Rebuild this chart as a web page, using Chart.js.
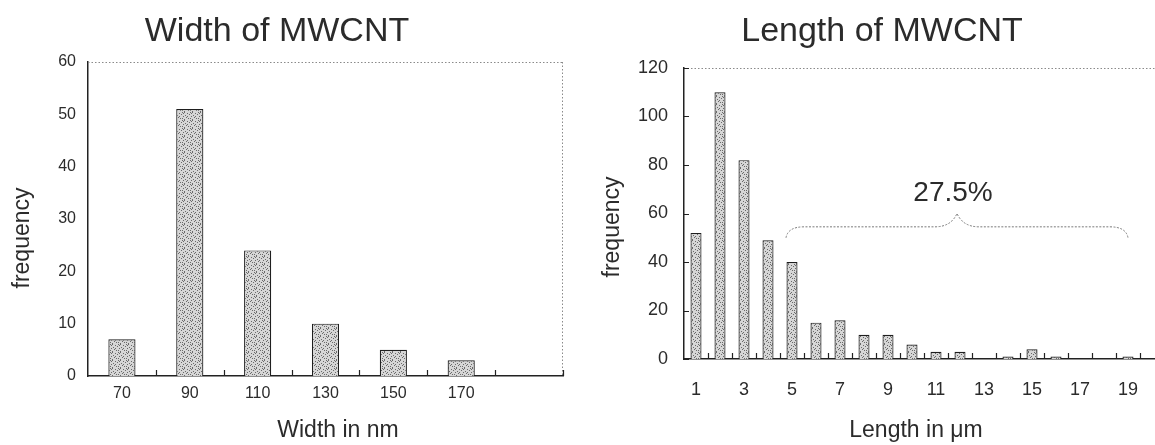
<!DOCTYPE html>
<html>
<head>
<meta charset="utf-8">
<script src="https://cdn.jsdelivr.net/npm/chart.js@4.4.1/dist/chart.umd.min.js"></script>
<style>
  html, body { margin: 0; padding: 0; background: #fff; overflow: hidden; }
  #wrap { position: relative; width: 1155px; height: 445px; overflow: hidden; }
  #widthBox { position: absolute; left: 0; top: 0; }
  #lengthBox { position: absolute; left: 580px; top: 0; }
</style>
</head>
<body>
<div id="wrap">
  <div id="widthBox"><canvas id="widthChart" width="580" height="445"></canvas></div>
  <div id="lengthBox"><canvas id="lengthChart" width="600" height="445"></canvas></div>
</div>
<script>
// data
const widthLabels = ['70', '90', '110', '130', '150', '170', '190'];
const widthCounts = [7, 51, 24, 10, 5, 3, 0];
const widthYTicks = [0, 10, 20, 30, 40, 50, 60];

const lengthLabels = ['1', '2', '3', '4', '5', '6', '7', '8', '9', '10',
                      '11', '12', '13', '14', '15', '16', '17', '18', '19', '20'];
const lengthCounts = [52, 110, 82, 49, 40, 15, 16, 10, 10, 6,
                      3, 3, 0, 1, 4, 1, 0, 0, 1, 0];
const lengthYTicks = [0, 20, 40, 60, 80, 100, 120];

// bracket over bins 5..19, labelled with the share of long tubes
const bracketFrom = '5';
const bracketTo = '19';
const bracketText = '27.5%';

const FONT = "'Liberation Sans', Arial, sans-serif";
const INK = '#2b2b2b';

// grey stipple like the scanned bars
function stipple(ctx) {
    const c = document.createElement('canvas');
    c.width = 8;
    c.height = 8;
    const g = c.getContext('2d');
    g.fillStyle = '#d6d6d6';
    g.fillRect(0, 0, 8, 8);
    g.fillStyle = '#6a6a6a';
    const dots = [[0, 0], [3, 1], [6, 0], [1, 3], [5, 2], [2, 5], [7, 4], [4, 6], [0, 7], [6, 6], [3, 4], [7, 1]];
    dots.forEach(([x, y]) => g.fillRect(x, y, 1, 1));
    return ctx.createPattern(c, 'repeat');
}

// frame: dotted top/right, little inner ticks, free text
function framePlugin(cfg) {
    return {
        id: 'frame',
        afterDraw(chart) {
            const ctx = chart.ctx;
            const a = chart.chartArea;
            const xs = chart.scales.x;
            const ys = chart.scales.y;
            ctx.save();

            // dotted top and right edges
            ctx.strokeStyle = '#8a8a8a';
            ctx.lineWidth = 1;
            ctx.setLineDash([1.5, 2]);
            ctx.beginPath();
            ctx.moveTo(a.left, a.top + 0.5);
            ctx.lineTo(a.right, a.top + 0.5);
            if (cfg.rightEdge) {
                ctx.moveTo(a.right - 0.5, a.top);
                ctx.lineTo(a.right - 0.5, a.bottom);
            }
            ctx.stroke();
            ctx.setLineDash([]);

            // inner ticks between categories on the x axis
            ctx.strokeStyle = '#222';
            ctx.lineWidth = 1.2;
            ctx.beginPath();
            const n = xs.getLabels().length;
            const step = (xs.getPixelForValue(1) - xs.getPixelForValue(0));
            for (let i = 1; i <= n; i++) {
                const px = Math.round(xs.getPixelForValue(i) - step / 2) + 0.5;
                ctx.moveTo(px, a.bottom);
                ctx.lineTo(px, a.bottom - 6);
            }
            if (cfg.yTicks) {
                ys.ticks.forEach(t => {
                    const py = Math.round(ys.getPixelForValue(t.value)) + 0.5;
                    ctx.moveTo(a.left, py);
                    ctx.lineTo(a.left + 5, py);
                });
            }
            ctx.stroke();

            // titles
            ctx.fillStyle = INK;
            ctx.textAlign = 'center';
            ctx.textBaseline = 'alphabetic';
            ctx.font = cfg.titleSize + 'px ' + FONT;
            ctx.fillText(cfg.title, cfg.titleX, cfg.titleY);

            ctx.font = cfg.axisSize + 'px ' + FONT;
            ctx.textBaseline = 'middle';
            ctx.fillText(cfg.xTitle, cfg.xTitleX, cfg.xTitleY);

            ctx.save();
            ctx.translate(cfg.yTitleX, cfg.yTitleY);
            ctx.rotate(-Math.PI / 2);
            ctx.fillText('frequency', 0, 0);
            ctx.restore();

            ctx.restore();
        }
    };
}

const bracketPlugin = {
    id: 'bracket',
    afterDraw(chart) {
        const ctx = chart.ctx;
        const xs = chart.scales.x;
        const ys = chart.scales.y;
        const x0 = xs.getPixelForValue(lengthLabels.indexOf(bracketFrom)) - 6;
        const x1 = xs.getPixelForValue(lengthLabels.indexOf(bracketTo));
        const mid = (x0 + x1) / 2;
        const yEnd = ys.getPixelForValue(50);
        const yBar = ys.getPixelForValue(54.5);
        const yTip = ys.getPixelForValue(60);
        ctx.save();
        ctx.strokeStyle = '#7a7a7a';
        ctx.lineWidth = 1;
        ctx.setLineDash([2, 1.5]);
        ctx.beginPath();
        ctx.moveTo(x0, yEnd);
        ctx.quadraticCurveTo(x0 + 2, yBar, x0 + 18, yBar);
        ctx.lineTo(mid - 22, yBar);
        ctx.quadraticCurveTo(mid - 6, yBar, mid, yTip);
        ctx.quadraticCurveTo(mid + 6, yBar, mid + 22, yBar);
        ctx.lineTo(x1 - 18, yBar);
        ctx.quadraticCurveTo(x1 - 2, yBar, x1, yEnd);
        ctx.stroke();
        ctx.setLineDash([]);
        ctx.fillStyle = INK;
        ctx.font = '28px ' + FONT;
        ctx.textAlign = 'center';
        ctx.textBaseline = 'middle';
        ctx.fillText(bracketText, mid - 4, ys.getPixelForValue(68.5));
        ctx.restore();
    }
};

function makeChart(id, labels, counts, yTicks, opt) {
    const ctx = document.getElementById(id).getContext('2d');
    return new Chart(ctx, {
        type: 'bar',
        data: {
            labels: labels,
            datasets: [{
                data: counts,
                backgroundColor: stipple(ctx),
                borderColor: '#1e1e1e',
                borderWidth: 1.2,
                barPercentage: opt.barPct,
                categoryPercentage: 1
            }]
        },
        options: {
            responsive: false,
            animation: false,
            devicePixelRatio: 1,
            layout: { padding: opt.padding },
            plugins: {
                legend: { display: false },
                title: { display: false },
                tooltip: { enabled: false }
            },
            scales: {
                x: {
                    offset: true,
                    grid: { display: false, offset: true },
                    border: { display: true, color: '#222', width: 1.5 },
                    ticks: {
                        autoSkip: false,
                        maxRotation: 0,
                        padding: opt.xPad,
                        color: INK,
                        font: { family: FONT, size: opt.xTickSize },
                        callback: (v, i) => opt.showX(i) ? labels[i] : ''
                    },
                    afterFit: s => { s.height = 60; }
                },
                y: {
                    min: yTicks[0],
                    max: yTicks[yTicks.length - 1],
                    afterBuildTicks: s => { s.ticks = yTicks.map(v => ({ value: v })); },
                    grid: { display: false },
                    border: { display: true, color: '#222', width: 1.5 },
                    ticks: {
                        padding: opt.yPad,
                        color: INK,
                        font: { family: FONT, size: opt.yTickSize }
                    },
                    afterFit: s => { s.width = opt.yWidth; }
                }
            }
        },
        plugins: opt.plugins
    });
}

makeChart('widthChart', widthLabels, widthCounts, widthYTicks, {
    barPct: 0.4,
    padding: { left: 0, top: 62, right: 17, bottom: 9 },
    yWidth: 88,
    xPad: 0,
    yPad: 4,
    xTickSize: 16,
    yTickSize: 16,
    showX: i => i < widthLabels.length - 1,
    plugins: [framePlugin({
        rightEdge: true, yTicks: false,
        title: 'Width of MWCNT', titleSize: 34, titleX: 277, titleY: 41,
        xTitle: 'Width in nm', xTitleX: 338, xTitleY: 431,
        yTitle: 'frequency', yTitleX: 23, yTitleY: 238, axisSize: 23
    })]
});

makeChart('lengthChart', lengthLabels, lengthCounts, lengthYTicks, {
    barPct: 0.46,
    padding: { left: 0, top: 68, right: 16, bottom: 26 },
    yWidth: 104,
    xPad: 12,
    yPad: 8,
    xTickSize: 18,
    yTickSize: 18,
    showX: i => i % 2 === 0 && i < 19,
    plugins: [framePlugin({
        rightEdge: false, yTicks: true,
        title: 'Length of MWCNT', titleSize: 34, titleX: 302, titleY: 41,
        xTitle: 'Length in μm', xTitleX: 336, xTitleY: 431,
        yTitle: 'frequency', yTitleX: 33, yTitleY: 227, axisSize: 23
    }), bracketPlugin]
});
</script>
</body>
</html>
